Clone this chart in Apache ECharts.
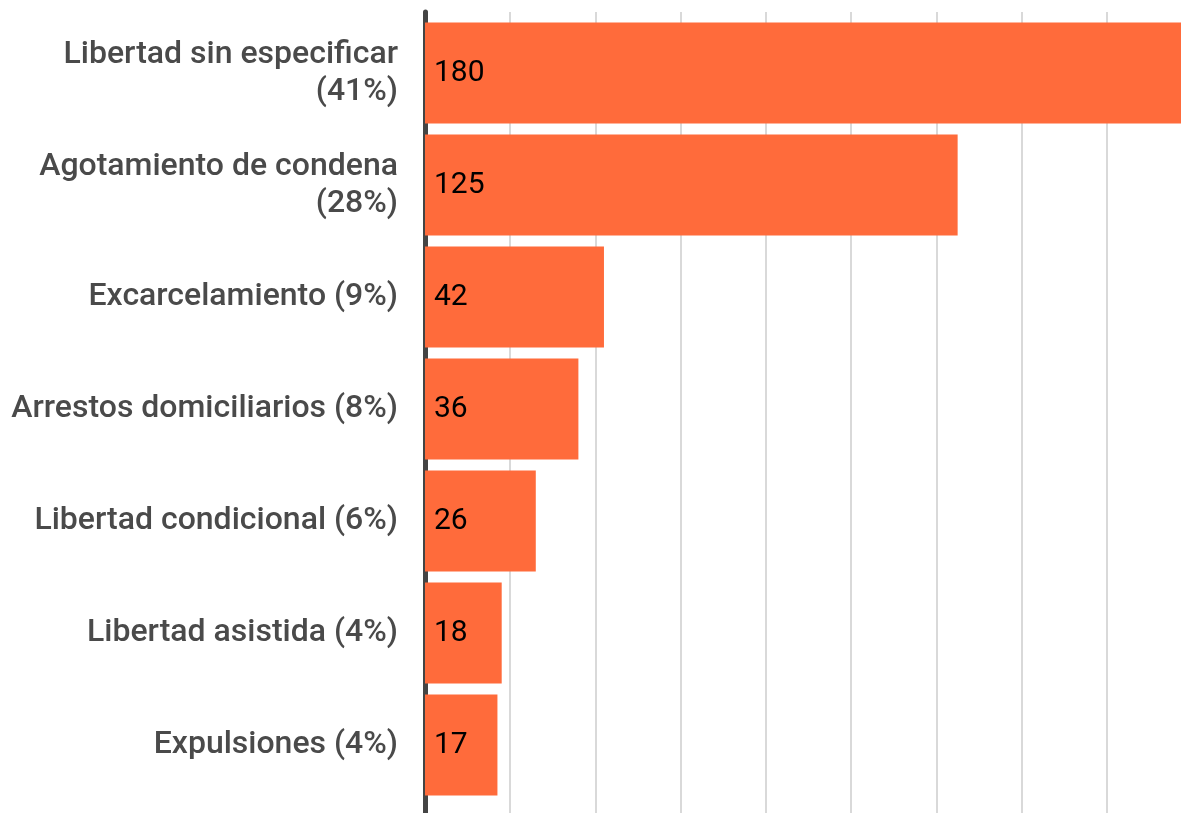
<!DOCTYPE html>
<html>
<head>
<meta charset="utf-8">
<script src="https://cdn.jsdelivr.net/npm/echarts@6/dist/echarts.min.js"></script>
<style>
  html, body { margin: 0; padding: 0; background: #fff; }
  #chart { width: 1181px; height: 813px; }
</style>
</head>
<body>
<div id="chart"></div>
<script>
// categorias (de arriba a abajo)
const categories = [
  'Libertad sin especificar\n(41%)',
  'Agotamiento de condena\n(28%)',
  'Excarcelamiento (9%)',
  'Arrestos domiciliarios (8%)',
  'Libertad condicional (6%)',
  'Libertad asistida (4%)',
  'Expulsiones (4%)'
];
const values = [180, 125, 42, 36, 26, 18, 17];

const axisMax = 180;
const axisStep = 20;

const chart = echarts.init(document.getElementById('chart'));

chart.setOption({
  animation: false,
  textStyle: { fontFamily: 'Roboto' },
  grid: [
    // rejilla de fondo (lineas y eje) - el eje sigue mas alla del borde derecho
    { left: 425, width: 767, top: 12, height: 810, outerBoundsMode: 'none' },
    // barras
    { left: 425, width: 767, top: 17, height: 784, outerBoundsMode: 'none' }
  ],
  xAxis: [
    {
      gridIndex: 0, type: 'value', min: 0, max: axisMax, interval: axisStep,
      axisLine: { show: false }, axisTick: { show: false }, axisLabel: { show: false },
      splitLine: { show: true, lineStyle: { color: '#d9d9d9', width: 2 } }
    },
    {
      gridIndex: 1, type: 'value', min: 0, max: axisMax, interval: axisStep,
      axisLine: { show: false }, axisTick: { show: false }, axisLabel: { show: false },
      splitLine: { show: false }
    }
  ],
  yAxis: [
    {
      gridIndex: 0, type: 'value',
      axisLine: { show: true, lineStyle: { color: '#444444', width: 5 } },
      axisTick: { show: false }, axisLabel: { show: false }, splitLine: { show: false }
    },
    {
      gridIndex: 1, type: 'category', data: categories, inverse: true,
      axisLine: { show: false }, axisTick: { show: false },
      axisLabel: {
        color: '#4a4a4a', fontSize: 32, fontWeight: 500, fontFamily: 'Roboto',
        margin: 27, lineHeight: 37, align: 'right'
      }
    }
  ],
  series: [
    {
      type: 'bar',
      xAxisIndex: 1, yAxisIndex: 1,
      data: values,
      barCategoryGap: '10%',
      itemStyle: { color: '#ff6b3b' },
      label: {
        show: true, position: 'insideLeft', distance: 9,
        color: '#000', fontSize: 30, fontFamily: 'Roboto'
      }
    }
  ]
});
</script>
</body>
</html>
